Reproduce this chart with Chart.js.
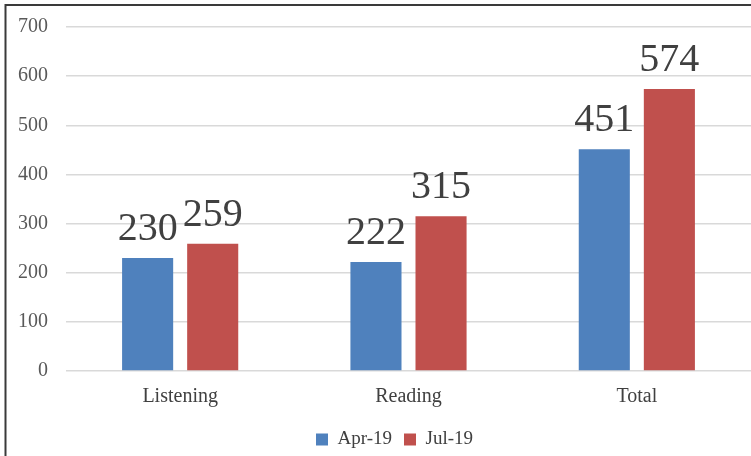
<!DOCTYPE html>
<html>
<head>
<meta charset="utf-8">
<script src="https://cdn.jsdelivr.net/npm/chart.js@4/dist/chart.umd.min.js"></script>
<style>
  html, body { margin: 0; padding: 0; background: #ffffff; }
  #wrap { position: relative; width: 751px; height: 456px; }
</style>
</head>
<body>
<div id="wrap"><canvas id="c" width="751" height="456"></canvas></div>
<script>
const categories = ["Listening", "Reading", "Total"];
const seriesNames = ["Apr-19", "Jul-19"];
const apr19 = [230, 222, 451];
const jul19 = [259, 315, 574];
const yTicks = [0, 100, 200, 300, 400, 500, 600, 700];

const FONT = "'Liberation Serif', 'DejaVu Serif', serif";

const frame = {
  id: 'frame',
  beforeDraw(chart) {
    const ctx = chart.ctx;
    ctx.save();
    ctx.strokeStyle = '#3a3a3a';
    ctx.lineWidth = 2;
    ctx.beginPath();
    ctx.moveTo(5.5, 456);
    ctx.lineTo(5.5, 5);
    ctx.lineTo(751, 5);
    ctx.stroke();
    ctx.restore();
  }
};

const legendShift = {
  id: 'legendShift',
  afterLayout(chart) {
    const lg = chart.legend;
    if (lg) {
      lg.left = 38;
      lg.width = lg.right - lg.left;
    }
  }
};

const valueLabels = {
  id: 'valueLabels',
  afterDatasetsDraw(chart) {
    const ctx = chart.ctx;
    ctx.save();
    ctx.font = "40px " + FONT;
    ctx.fillStyle = '#404040';
    ctx.textAlign = 'center';
    ctx.textBaseline = 'alphabetic';
    chart.data.datasets.forEach((ds, di) => {
      const meta = chart.getDatasetMeta(di);
      meta.data.forEach((bar, i) => {
        ctx.fillText(String(ds.data[i]), bar.x, bar.y - 18);
      });
    });
    ctx.restore();
  }
};

new Chart(document.getElementById('c'), {
  type: 'bar',
  data: {
    labels: categories,
    datasets: [
      { label: seriesNames[0], data: apr19, backgroundColor: '#4F81BD', borderWidth: 0 },
      { label: seriesNames[1], data: jul19, backgroundColor: '#C0504D', borderWidth: 0 }
    ]
  },
  options: {
    responsive: false,
    animation: false,
    devicePixelRatio: 1,
    datasets: { bar: { categoryPercentage: 0.57, barPercentage: 0.785 } },
    layout: { padding: { left: 5, right: 0, top: 27, bottom: -3 } },
    scales: {
      x: {
        grid: { display: false, drawTicks: false },
        border: { display: false },
        ticks: { color: '#404040', font: { family: FONT, size: 20 }, padding: 14 },
        afterFit(scale) { scale.height = 47; }
      },
      y: {
        min: 0, max: 700,
        afterBuildTicks(scale) { scale.ticks = yTicks.map(v => ({ value: v })); },
        grid: { color: '#d9d9d9', lineWidth: 1.5, drawTicks: true, tickLength: 14, tickColor: 'rgba(0,0,0,0)' },
        border: { display: false },
        ticks: { color: '#595959', font: { family: FONT, size: 20 }, padding: 4 },
        afterFit(scale) { scale.width = 61; }
      }
    },
    plugins: {
      legend: {
        position: 'bottom',
        labels: { color: '#404040', font: { family: FONT, size: 19 }, boxWidth: 12, boxHeight: 12, padding: 12 }
      },
      tooltip: { enabled: false },
      title: { display: false }
    }
  },
  plugins: [frame, legendShift, valueLabels]
});
</script>
</body>
</html>
